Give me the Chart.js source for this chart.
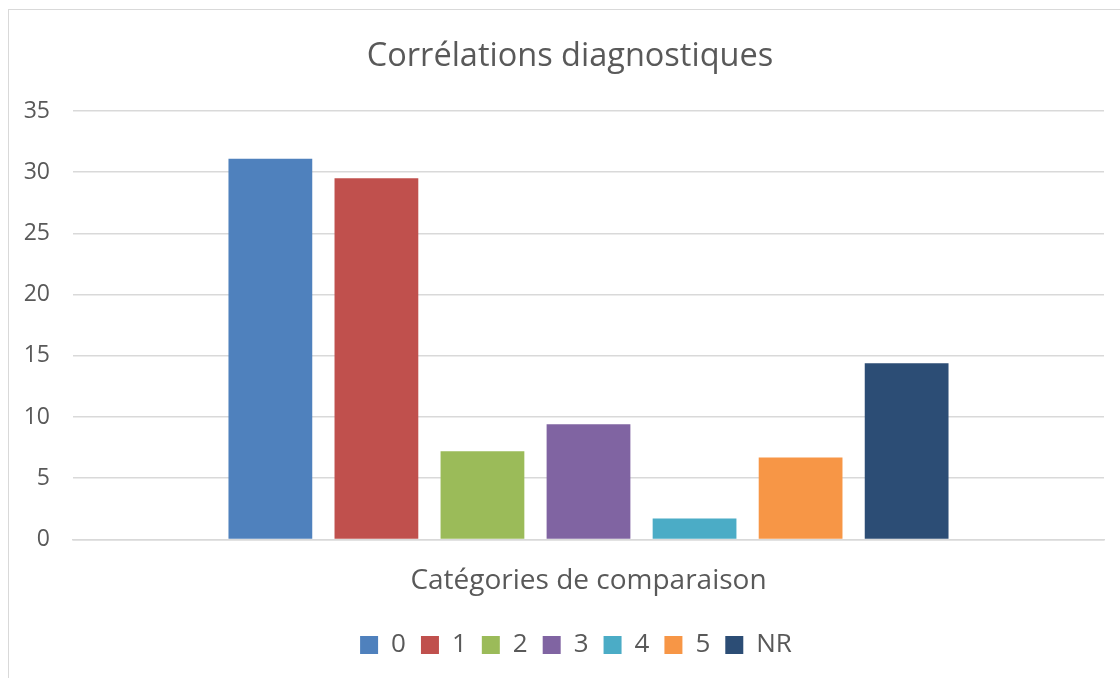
<!DOCTYPE html>
<html>
<head>
<meta charset="utf-8">
<script src="https://cdn.jsdelivr.net/npm/chart.js@4"></script>
<style>
  html, body { margin: 0; padding: 0; background: #fff; overflow: hidden; }
  #frame {
    position: absolute; left: 8px; top: 9px; width: 1200px; height: 800px;
    border: 1px solid #d9d9d9; box-sizing: border-box;
  }
  #wrap { position: absolute; left: 0; top: 0; width: 1120px; height: 678px; }
</style>
</head>
<body>
<div id="frame"></div>
<div id="wrap"><canvas id="barChart" width="1120" height="678"></canvas></div>
<script>
// chart data
var categories = [""];
var seriesNames = ["0", "1", "2", "3", "4", "5", "NR"];
var seriesValues = [31.1, 29.5, 7.2, 9.4, 1.7, 6.7, 14.4];
var seriesColors = ["#4f81bd", "#c0504d", "#9bbb59", "#8064a2", "#4bacc6", "#f79646", "#2c4d75"];
var yTicks = [0, 5, 10, 15, 20, 25, 30, 35];

var textColor = "#595959";
var gridColor = "#d9d9d9";
var fontFamily = "'Open Sans', sans-serif";

var datasets = seriesNames.map(function (name, i) {
  return {
    label: name,
    data: [seriesValues[i]],
    backgroundColor: seriesColors[i],
    borderWidth: 0,
    categoryPercentage: 0.72,
    barPercentage: 0.79,
  };
});

// the original centres title and legend a bit right of the canvas middle
var shiftBoxes = {
  id: "shiftBoxes",
  afterLayout: function (chart) {
    if (chart.titleBlock) chart.titleBlock.left = 36;
    if (chart.legend) chart.legend.left = 48;
  },
};

var ctx = document.getElementById("barChart").getContext("2d");
var barChart = new Chart(ctx, {
  type: "bar",
  data: {
    labels: categories,
    datasets: datasets,
  },
  plugins: [shiftBoxes],
  options: {
    responsive: false,
    animation: false,
    layout: {
      padding: { left: 0, right: 16, top: 0, bottom: 10 },
    },
    plugins: {
      title: {
        display: true,
        text: "Corrélations diagnostiques",
        color: textColor,
        font: { family: fontFamily, size: 32.5, weight: "normal" },
        padding: { top: 37, bottom: 35 },
      },
      legend: {
        display: true,
        position: "bottom",
        labels: {
          color: textColor,
          font: { family: fontFamily, size: 26 },
          boxWidth: 18,
          boxHeight: 18,
          padding: 15,
        },
      },
      tooltip: { enabled: false },
    },
    scales: {
      x: {
        grid: { display: false, drawTicks: false },
        border: { display: true, color: gridColor, width: 1.5 },
        ticks: { display: false },
        title: {
          display: true,
          text: "Catégories de comparaison",
          color: textColor,
          font: { family: fontFamily, size: 28 },
          padding: { top: 25, bottom: 19 },
        },
      },
      y: {
        min: 0,
        max: 35,
        afterBuildTicks: function (axis) {
          axis.ticks = yTicks.map(function (v) { return { value: v }; });
        },
        afterFit: function (axis) {
          axis.width = 73;
        },
        grid: { color: gridColor, lineWidth: 1.5, drawTicks: false },
        border: { display: false },
        ticks: {
          color: textColor,
          font: { family: fontFamily, size: 23 },
          padding: 23,
        },
      },
    },
  },
});
</script>
</body>
</html>
